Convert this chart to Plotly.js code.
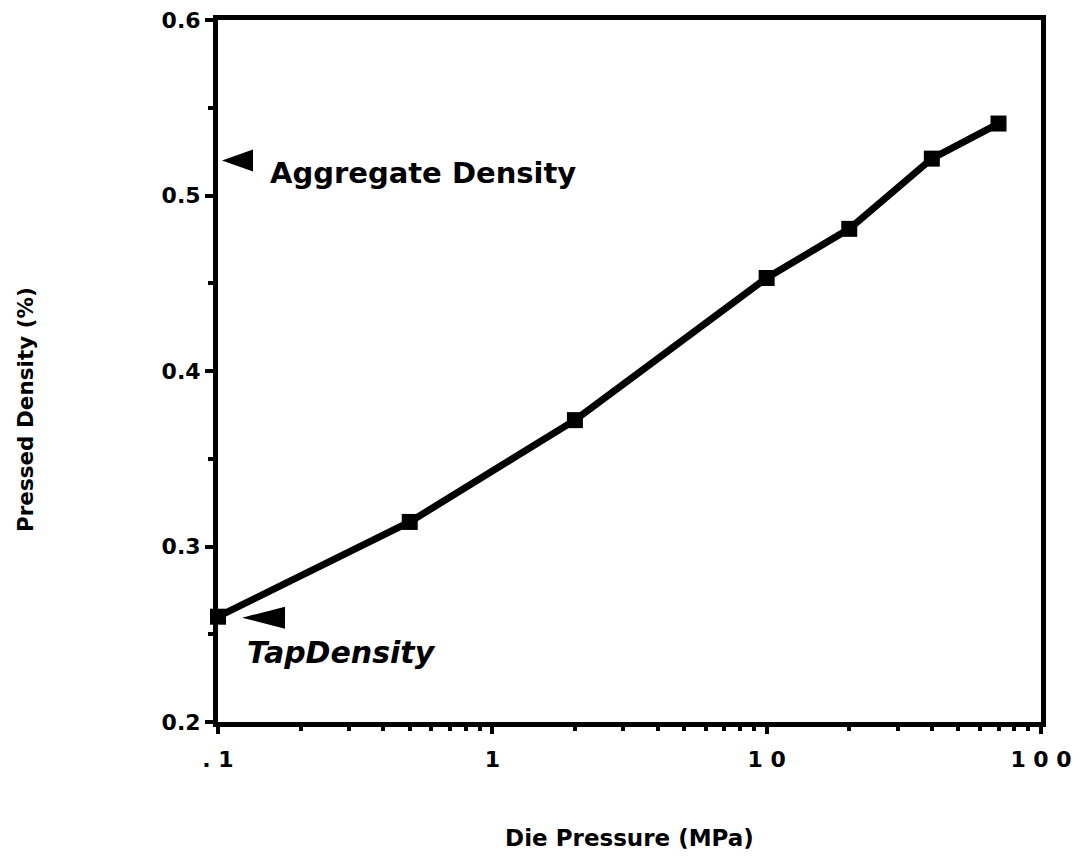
<!DOCTYPE html>
<html>
<head>
<meta charset="utf-8">
<script src="https://cdn.plot.ly/plotly-3.0.1.min.js"></script>
<style>html,body{margin:0;padding:0;background:#fff;}#chart{width:1084px;height:860px;}</style>
</head>
<body>
<div id="chart"></div>
<script>
// ---- data ----
const diePressure = [0.1, 0.5, 2, 10, 20, 40, 70];          // MPa
const pressedDensity = [0.26, 0.314, 0.372, 0.453, 0.481, 0.521, 0.541];
const xTickVals = [0.1, 1, 10, 100];
const xTickText = ['. 1', '1', '1 0', '1 0 0'];
const yTickVals = [0.2, 0.3, 0.4, 0.5, 0.6];
const yTickText = ['0.2', '0.3', '0.4', '0.5', '0.6'];
const aggregateDensity = 0.52;
const tapDensity = 0.26;
const tapPressure = 0.1;

// minor tick positions on the log axis (2..9 in each decade)
const xMinorVals = [];
[0.1, 1, 10].forEach(d => { for (let k = 2; k <= 9; k++) xMinorVals.push(+(d * k).toPrecision(3)); });
const yMinorVals = [0.25, 0.35, 0.45, 0.55];

const FONT = 'DejaVu Sans';

const trace = {
  x: diePressure,
  y: pressedDensity,
  type: 'scatter',
  mode: 'lines+markers',
  line: {color: '#000', width: 7},
  marker: {symbol: 'square', size: 16, color: '#000'},
  cliponaxis: false,
  showlegend: false,
  hoverinfo: 'x+y'
};

const layout = {
  width: 1084, height: 860,
  margin: {l: 218, r: 43, t: 20, b: 138},
  paper_bgcolor: '#fff', plot_bgcolor: '#fff',
  font: {family: FONT, color: '#000', weight: 'bold'},
  showlegend: false,
  xaxis: {
    type: 'log', range: [Math.log10(0.1), Math.log10(100)],
    tickmode: 'array', tickvals: xTickVals, ticktext: xTickText,
    tickfont: {family: FONT, size: 22, weight: 'bold', color: '#000'},
    ticks: 'outside', ticklen: 7, tickwidth: 4, tickcolor: '#000',
    ticklabelstandoff: 7,
    minor: {tickmode: 'array', tickvals: xMinorVals, ticks: 'outside', ticklen: 4, tickwidth: 4, tickcolor: '#000', showgrid: false},
    showline: true, linewidth: 5, linecolor: '#000', mirror: true,
    showgrid: false, zeroline: false,
    title: {text: 'Die Pressure (MPa)', font: {family: FONT, size: 23, weight: 'bold', color: '#000'}, standoff: 60},
    automargin: false
  },
  yaxis: {
    range: [0.2, 0.6],
    tickmode: 'array', tickvals: yTickVals, ticktext: yTickText,
    tickfont: {family: FONT, size: 22, weight: 'bold', color: '#000'},
    ticks: 'outside', ticklen: 8, tickwidth: 4, tickcolor: '#000',
    ticklabelstandoff: 0,
    minor: {tickmode: 'array', tickvals: yMinorVals, ticks: 'outside', ticklen: 5, tickwidth: 4, tickcolor: '#000', showgrid: false},
    showline: true, linewidth: 5, linecolor: '#000', mirror: true,
    showgrid: false, zeroline: false,
    automargin: false
  },
  shapes: [
    { // arrow to aggregate density
      type: 'path', xref: 'x', yref: 'y', xsizemode: 'pixel', ysizemode: 'pixel',
      xanchor: tapPressure, yanchor: aggregateDensity,
      path: 'M4,0 L35,11 L35,-11 Z', fillcolor: '#000', line: {width: 0}
    },
    { // arrow to tap density
      type: 'path', xref: 'x', yref: 'y', xsizemode: 'pixel', ysizemode: 'pixel',
      xanchor: tapPressure, yanchor: tapDensity,
      path: 'M24,-1 L67,10 L67,-12 Z', fillcolor: '#000', line: {width: 0}
    }
  ],
  annotations: [
    {
      text: 'Aggregate Density', xref: 'x', yref: 'y',
      x: Math.log10(tapPressure), y: aggregateDensity,
      xanchor: 'left', yanchor: 'middle', xshift: 50, yshift: -13,
      showarrow: false,
      font: {family: FONT, size: 29, weight: 'bold', color: '#000'}
    },
    {
      text: 'TapDensity', xref: 'x', yref: 'y',
      x: Math.log10(tapPressure), y: tapDensity,
      xanchor: 'left', yanchor: 'middle', xshift: 27, yshift: -36,
      showarrow: false,
      font: {family: FONT, size: 30, weight: 'bold', style: 'italic', color: '#000'}
    },
    {
      text: 'Pressed Density (%)', xref: 'paper', yref: 'paper',
      x: (25 - 218) / 823, y: (722 - 410) / 702,
      xanchor: 'center', yanchor: 'middle', textangle: -90,
      showarrow: false,
      font: {family: FONT, size: 21.5, weight: 'bold', color: '#000'}
    }
  ]
};

Plotly.newPlot('chart', [trace], layout, {displayModeBar: false, staticPlot: true});
</script>
</body>
</html>
